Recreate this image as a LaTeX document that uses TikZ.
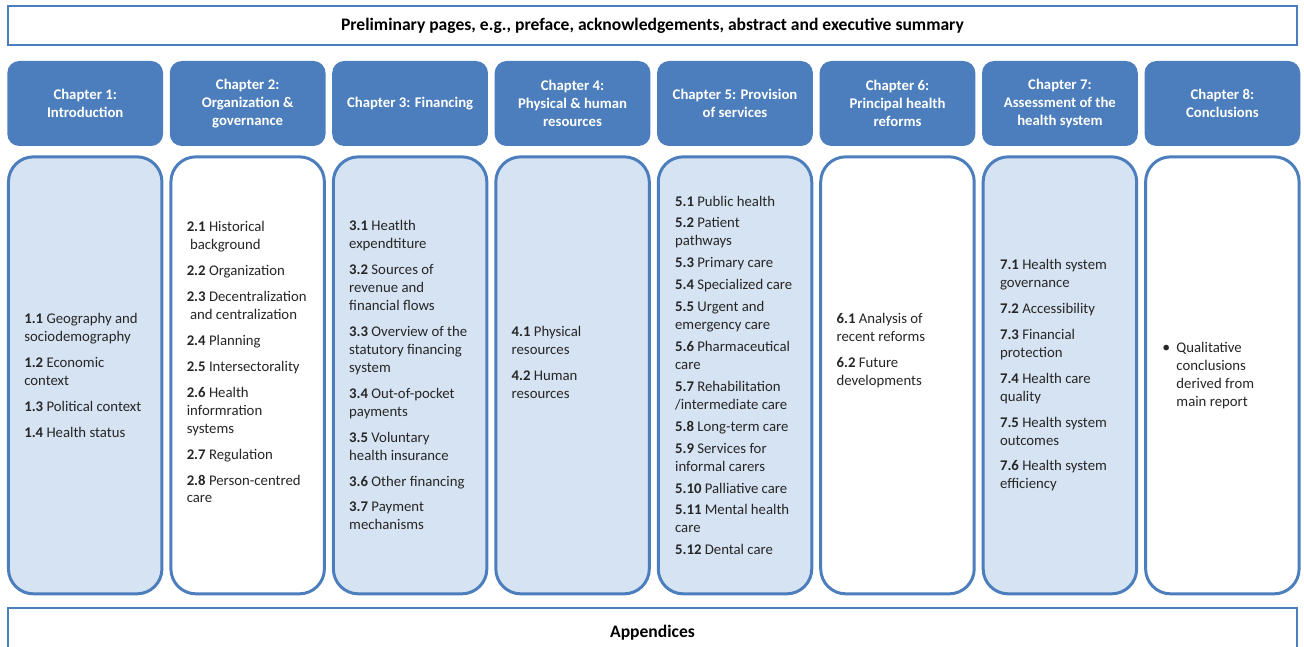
\documentclass[tikz,border=0pt]{standalone}
\usepackage{fontspec}
\setmainfont{Carlito}
\usepackage{tikz}
\usetikzlibrary{positioning}
\definecolor{hdblue}{RGB}{76,126,189}
\definecolor{lightblue}{RGB}{214,227,242}
\definecolor{itemtext}{RGB}{38,38,38}
\tikzset{chapter node/.style={rectangle,rounded corners=0.24cm,fill=hdblue,text=white,font=\bfseries,align=center,minimum width=3.115cm,minimum height=1.7cm,inner sep=2pt},
	body node/.style={rectangle,rounded corners=0.5cm,draw=hdblue,line width=1.7pt,minimum width=3.07cm,minimum height=8.74cm},
	bar node/.style={rectangle,draw=hdblue,line width=1.1pt,fill=white,minimum width=25.78cm,font=\fontsize{10}{12}\selectfont\bfseries,text=black},
	item text/.style={align=left,text=itemtext,inner sep=0pt,anchor=west},
}
\newcommand{\secno}[1]{\textbf{#1}}

\begin{document}
\fontsize{8.4}{10.2}\selectfont
\begin{tikzpicture}[node distance=0.12cm]
	\useasboundingbox (0,0) rectangle (26.08,-12.94);
	
	\node[bar node,minimum height=0.78cm] (prelim) at (13.05,-0.51) {Preliminary pages, e.g., preface, acknowledgements, abstract and executive summary};
	
	\node[chapter node] (h1) at (1.704,-2.07) {Chapter 1:\\Introduction};
	\node[chapter node] (h2) [right=of h1] {Chapter 2:\\Organization \&\\governance};
	\node[chapter node] (h3) [right=of h2] {Chapter 3: Financing};
	\node[chapter node] (h4) [right=of h3] {Chapter 4:\\Physical \& human\\resources};
	\node[chapter node] (h5) [right=of h4] {Chapter 5: Provision\\of services};
	\node[chapter node] (h6) [right=of h5] {Chapter 6:\\Principal health\\reforms};
	\node[chapter node] (h7) [right=of h6] {Chapter 7:\\Assessment of the\\health system};
	\node[chapter node] (h8) [right=of h7] {Chapter 8:\\Conclusions};
	
	\node[body node,fill=lightblue] (b1) [below=0.18cm of h1] {};
	\node[body node,fill=white] (b2) [below=0.18cm of h2] {};
	\node[body node,fill=lightblue] (b3) [below=0.18cm of h3] {};
	\node[body node,fill=lightblue] (b4) [below=0.18cm of h4] {};
	\node[body node,fill=lightblue] (b5) [below=0.18cm of h5] {};
	\node[body node,fill=white] (b6) [below=0.18cm of h6] {};
	\node[body node,fill=lightblue] (b7) [below=0.18cm of h7] {};
	\node[body node,fill=white] (b8) [below=0.18cm of h8] {};
	
	\node[item text] (t1) at ([xshift=0.34cm]b1.west) {\secno{1.1} Geography and\\sociodemography\\[0.16cm]
		\secno{1.2} Economic\\context\\[0.16cm]
		\secno{1.3} Political context\\[0.16cm]
		\secno{1.4} Health status};
	\node[item text] (t2) at ([xshift=0.34cm,yshift=0.26cm]b2.west) {\secno{2.1} Historical\\\hspace*{0.22em}background\\[0.16cm]
		\secno{2.2} Organization\\[0.16cm]
		\secno{2.3} Decentralization\\\hspace*{0.22em}and centralization\\[0.16cm]
		\secno{2.4} Planning\\[0.16cm]
		\secno{2.5} Intersectorality\\[0.16cm]
		\secno{2.6} Health\\informration\\systems\\[0.16cm]
		\secno{2.7} Regulation\\[0.16cm]
		\secno{2.8} Person-centred\\care};
	\node[item text] (t3) at ([xshift=0.34cm]b3.west) {\secno{3.1} Heatlth\\expendtiture\\[0.16cm]
		\secno{3.2} Sources of\\revenue and\\financial flows\\[0.16cm]
		\secno{3.3} Overview of the\\statutory financing\\system\\[0.16cm]
		\secno{3.4} Out-of-pocket\\payments\\[0.16cm]
		\secno{3.5} Voluntary\\health insurance\\[0.16cm]
		\secno{3.6} Other financing\\[0.16cm]
		\secno{3.7} Payment\\mechanisms};
	\node[item text] (t4) at ([xshift=0.34cm,yshift=0.26cm]b4.west) {\secno{4.1} Physical\\resources\\[0.16cm]
		\secno{4.2} Human\\resources};
	\node[item text] (t5) at ([xshift=0.36cm]b5.west) {\secno{5.1} Public health\\[0.08cm]
		\secno{5.2} Patient\\pathways\\[0.08cm]
		\secno{5.3} Primary care\\[0.08cm]
		\secno{5.4} Specialized care\\[0.08cm]
		\secno{5.5} Urgent and\\emergency care\\[0.08cm]
		\secno{5.6} Pharmaceutical\\care\\[0.08cm]
		\secno{5.7} Rehabilitation\\/intermediate care\\[0.08cm]
		\secno{5.8} Long-term care\\[0.08cm]
		\secno{5.9} Services for\\informal carers\\[0.08cm]
		\secno{5.10} Palliative care\\[0.08cm]
		\secno{5.11} Mental health\\care\\[0.08cm]
		\secno{5.12} Dental care};
	\node[item text] (t6) at ([xshift=0.34cm,yshift=0.5cm]b6.west) {\secno{6.1} Analysis of\\recent reforms\\[0.16cm]
		\secno{6.2} Future\\developments};
	\node[item text] (t7) at ([xshift=0.36cm]b7.west) {\secno{7.1} Health system\\governance\\[0.16cm]
		\secno{7.2} Accessibility\\[0.16cm]
		\secno{7.3} Financial\\protection\\[0.16cm]
		\secno{7.4} Health care\\quality\\[0.16cm]
		\secno{7.5} Health system\\outcomes\\[0.16cm]
		\secno{7.6} Health system\\efficiency};
	\node[item text] (t8) at ([xshift=0.36cm]b8.west) {\makebox[0.28cm][l]{\small\textbullet}Qualitative\\
		\hspace*{0.28cm}conclusions\\
		\hspace*{0.28cm}derived from\\
		\hspace*{0.28cm}main report};
	
	\node[bar node,minimum height=1.0cm,anchor=north] (appx) at (13.05,-12.14) {Appendices};
\end{tikzpicture}
\end{document}
